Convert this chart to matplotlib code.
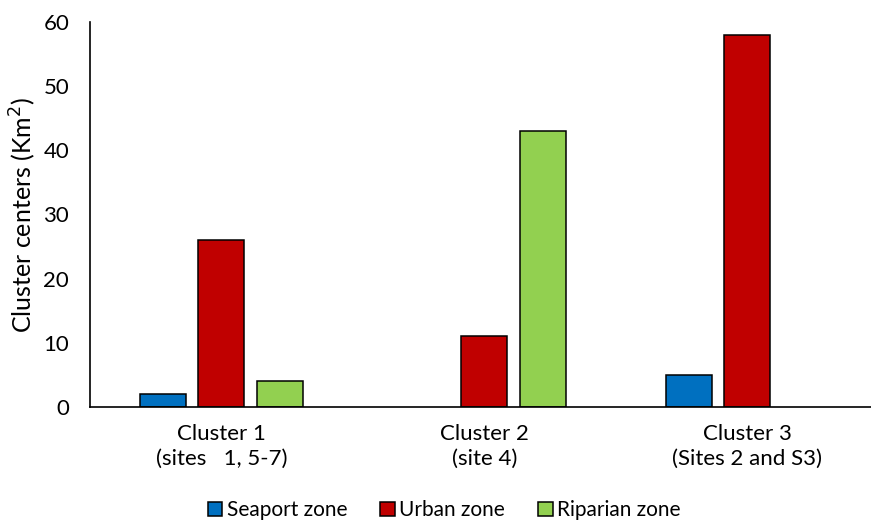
import matplotlib.pyplot as plt
import numpy as np

plt.rcParams['font.family'] = ['Lato', 'DejaVu Sans']

clusters = ['Cluster 1\n(sites   1, 5-7)', 'Cluster 2\n(site 4)', 'Cluster 3\n(Sites 2 and S3)']
zones = ['Seaport zone', 'Urban zone', 'Riparian zone']
seaport = [2, 0, 5]
urban = [26, 11, 58]
riparian = [4, 43, 0]
colors = ['#0070C0', '#C00000', '#92D050']

fig = plt.figure(figsize=(8.71, 5.25), dpi=100)
ax = fig.add_axes([0.1033, 0.2248, 0.8967, 0.7333])

x = np.arange(len(clusters))
w = 0.175
step = 0.222
for i, (vals, name) in enumerate(zip([seaport, urban, riparian], zones)):
    # empty bars get no outline
    lws = [1.1 if v > 0 else 0 for v in vals]
    ax.bar(x + (i - 1) * step, vals, w, color=colors[i], edgecolor='black',
           linewidth=lws, label=name)

ax.set_xlim(-0.5, 2.47)
ax.set_ylim(0, 60)
ax.set_yticks(range(0, 61, 10))
ax.set_xticks(x)
ax.set_xticklabels(clusters, fontsize=16, linespacing=1.35)
ax.tick_params(axis='y', length=0, pad=15, labelsize=16)
ax.tick_params(axis='x', length=0, pad=12)
ax.set_ylabel('Cluster centers (Km$^2$)', fontsize=18, labelpad=4)

for s in ['top', 'right']:
    ax.spines[s].set_visible(False)
for s in ['left', 'bottom']:
    ax.spines[s].set_linewidth(1.2)

fig.legend(loc='center', bbox_to_anchor=(0.51, 0.028), ncol=3, frameon=False,
           fontsize=15, handlelength=0.7, handleheight=0.7, handletextpad=0.2,
           columnspacing=1.6)

fig.savefig('out.png', dpi=100)
